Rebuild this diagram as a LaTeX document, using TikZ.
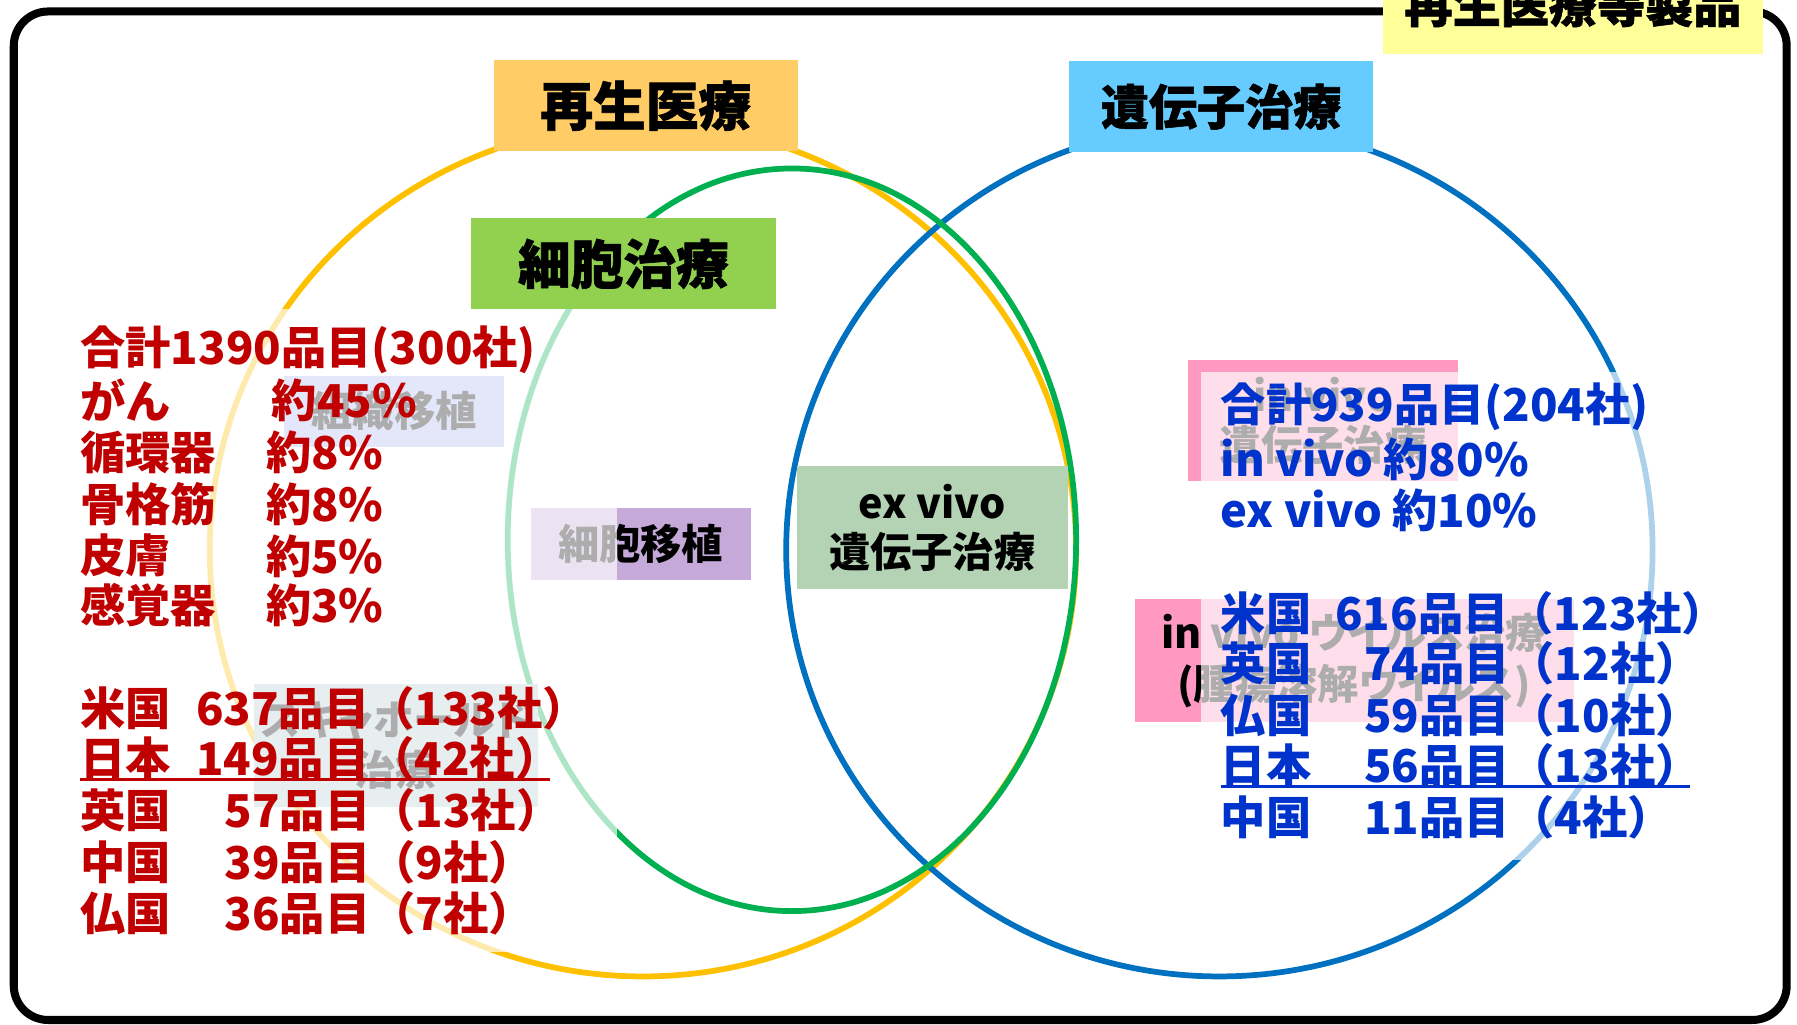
\documentclass[tikz,border=0pt]{standalone}
\usepackage{fontspec}
\setmainfont{Noto Sans CJK JP}
\definecolor{cyel}{HTML}{FFC000}
\definecolor{cgrn}{HTML}{00B050}
\definecolor{cblu}{HTML}{0070C0}
\definecolor{cred}{HTML}{C00000}
\definecolor{ctxb}{HTML}{0033CC}
\definecolor{fsaisei}{HTML}{FFCC66}
\definecolor{fiden}{HTML}{66CCFF}
\definecolor{fsaibou}{HTML}{92D050}
\definecolor{fseihin}{HTML}{FFFF99}
\definecolor{fsoshiki}{HTML}{AAB6EE}
\definecolor{fishoku}{HTML}{C5A9D8}
\definecolor{fexvivo}{HTML}{B3D3B4}
\definecolor{fscaf}{HTML}{B2CBD1}
\definecolor{fpink}{HTML}{FF99C2}
\tikzset{
  ring/.style={line width=5pt},
  titlebox/.style={inner sep=0pt, font=\fontsize{46}{52}\selectfont\bfseries\addfontfeatures{FakeBold=1.2}, text=black},
  labbox/.style={inner sep=0pt, align=center, font=\fontsize{36}{43}\selectfont\bfseries, text=black},
  tR/.style={anchor=west, inner sep=0pt, text=cred, font=\fontsize{39.5}{48}\selectfont\bfseries},
  tB/.style={anchor=west, inner sep=0pt, text=ctxb, font=\fontsize{39.5}{48}\selectfont\bfseries},
  veil/.style={fill=white, fill opacity=0.68, draw=none}
}
\begin{document}
\begin{tikzpicture}[x=1pt,y=-1pt]
\useasboundingbox (0,0) rectangle (1568,894);
\begin{scope}
\clip (0,0) rectangle (1568,894);
\fill[white] (0,0) rectangle (1568,894);
% frame
\draw[line width=7pt, rounded corners=30pt] (12,10) rectangle (1559,890);
% circles
\draw[ring, cyel] (561,480) ellipse [x radius=378pt, y radius=372pt];
\draw[ring, cblu] (1064,480) ellipse [x radius=378pt, y radius=372pt];
\draw[ring, cgrn] (691,471) ellipse [x radius=248pt, y radius=324pt];
% label boxes
\node[labbox, fill=fsoshiki, minimum width=192pt, minimum height=62pt] (soshiki) at (344,359) {組織移植};
\node[labbox, fill=fishoku, minimum width=192pt, minimum height=63pt] (ishoku) at (559,474.5) {細胞移植};
\node[labbox, fill=fexvivo, minimum width=237pt, minimum height=107pt] (exvivo) at (813.5,460.5) {ex vivo\\遺伝子治療};
\node[labbox, fill=fscaf, minimum width=247pt, minimum height=107pt, font=\fontsize{36}{44}\selectfont\bfseries\addfontfeatures{RawFeature=+palt}] (scaf) at (345.5,650.5) {スキャホールド\\治療};
\node[labbox, fill=fpink, minimum width=235pt, minimum height=106pt] (invivo) at (1154.5,367) {in vivo\\遺伝子治療};
\node[labbox, fill=fpink, minimum width=383pt, minimum height=107pt, font=\fontsize{36}{44}\selectfont\bfseries\addfontfeatures{RawFeature=+palt}] (virus) at (1181.5,576.5) {in vivo ウイルス治療\\(腫瘍溶解ウイルス)};
% translucent text panels
\path[veil] (62,270) rectangle (538,831);
\path[veil] (1048,325) rectangle (1485,750);
% title boxes
\node[titlebox, fill=fsaisei, minimum width=265pt, minimum height=80pt, text depth=4pt] (saisei) at (563.5,92) {再生医療};
\node[titlebox, fill=fiden, minimum width=265pt, minimum height=80pt, text depth=4pt, font=\fontsize{42}{50}\selectfont\bfseries\addfontfeatures{FakeBold=1.2}] (iden) at (1065.5,93) {遺伝子治療};
\node[titlebox, fill=fsaibou, minimum width=266pt, minimum height=80pt, text depth=4pt] (saibou) at (544,230) {細胞治療};
\node[titlebox, fill=fseihin, minimum width=331pt, minimum height=87pt, font=\fontsize{42}{50}\selectfont\bfseries\addfontfeatures{FakeBold=1.2}] (seihin) at (1372.5,3.5) {再生医療等製品};
% red text
\node[tR] (r0) at (70,305) {合計1390品目(300社)};
\node[tR] (r1a) at (70,349) {がん};      \node[tR] (r1b) at (237,349) {約45\%};
\node[tR] (r2a) at (70,395) {循環器};    \node[tR] (r2b) at (232,395) {約8\%};
\node[tR] (r3a) at (70,440) {骨格筋};    \node[tR] (r3b) at (232,440) {約8\%};
\node[tR] (r4a) at (70,485) {皮膚};      \node[tR] (r4b) at (232,485) {約5\%};
\node[tR] (r5a) at (70,528) {感覚器};    \node[tR] (r5b) at (232,528) {約3\%};
\node[tR] (c1a) at (70,618) {米国};      \node[tR] (c1b) at (171,618) {637品目（133社）};
\node[tR] (c2a) at (70,662) {日本};      \node[tR] (c2b) at (171,662) {149品目（42社）};
\node[tR] (c3a) at (70,707) {英国};      \node[tR] (c3b) at (196,707) {57品目（13社）};
\node[tR] (c4a) at (70,752) {中国};      \node[tR] (c4b) at (196,752) {39品目（9社）};
\node[tR] (c5a) at (70,797) {仏国};      \node[tR] (c5b) at (196,797) {36品目（7社）};
\coordinate (ulr1) at (70,680); \coordinate (ulr2) at (480,680);
\draw[cred, line width=2.5pt] (ulr1) -- (ulr2);
% blue text
\node[tB] (b0) at (1065,355) {合計939品目(204社)};
\node[tB] (b1) at (1065,401) {in vivo 約80\%};
\node[tB] (b2) at (1065,445) {ex vivo 約10\%};
\node[tB] (d1a) at (1065,535) {米国};     \node[tB] (d1b) at (1165,535) {616品目（123社）};
\node[tB] (d2a) at (1065,579) {英国};     \node[tB] (d2b) at (1190,579) {74品目（12社）};
\node[tB] (d3a) at (1065,624) {仏国};     \node[tB] (d3b) at (1190,624) {59品目（10社）};
\node[tB] (d4a) at (1065,668) {日本};     \node[tB] (d4b) at (1190,668) {56品目（13社）};
\node[tB] (d5a) at (1065,713) {中国};     \node[tB] (d5b) at (1190,713) {11品目（4社）};
\coordinate (ulb1) at (1065,686); \coordinate (ulb2) at (1475,686);
\draw[ctxb, line width=2.5pt] (ulb1) -- (ulb2);
\end{scope}
\end{tikzpicture}
\end{document}
